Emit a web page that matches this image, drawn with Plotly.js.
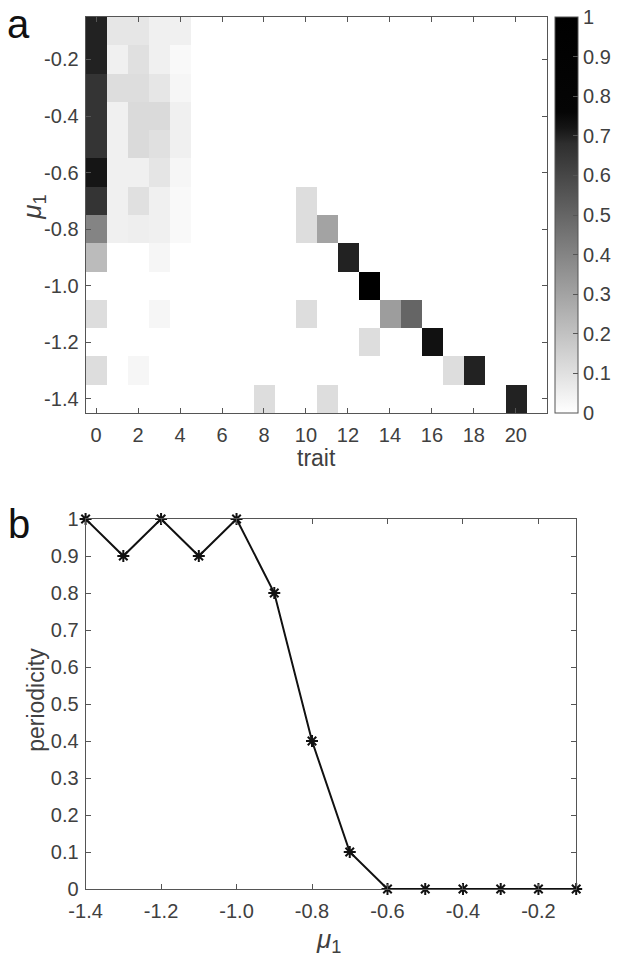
<!DOCTYPE html>
<html>
<head>
<meta charset="utf-8">
<script src="https://cdn.plot.ly/plotly-3.0.1.min.js"></script>
<style>html,body{margin:0;padding:0;background:#fff;}#chart{width:617px;height:956px;}</style>
</head>
<body>
<div id="chart"></div>
<script>
// ---- data: panel a (heatmap) ----
const traits = [0,1,2,3,4,5,6,7,8,9,10,11,12,13,14,15,16,17,18,19,20,21];
const mu1Rows = [-0.1,-0.2,-0.3,-0.4,-0.5,-0.6,-0.7,-0.8,-0.9,-1.0,-1.1,-1.2,-1.3,-1.4];
const row_m01 = [0.70,0.08,0.08,0.05,0.05,0,0,0,0,0,0,0,0,0,0,0,0,0,0,0,0,0];
const row_m02 = [0.70,0.05,0.10,0.05,0.02,0,0,0,0,0,0,0,0,0,0,0,0,0,0,0,0,0];
const row_m03 = [0.66,0.11,0.11,0.08,0.03,0,0,0,0,0,0,0,0,0,0,0,0,0,0,0,0,0];
const row_m04 = [0.66,0.05,0.12,0.12,0.05,0,0,0,0,0,0,0,0,0,0,0,0,0,0,0,0,0];
const row_m05 = [0.66,0.05,0.12,0.10,0.05,0,0,0,0,0,0,0,0,0,0,0,0,0,0,0,0,0];
const row_m06 = [0.72,0.05,0.05,0.085,0.03,0,0,0,0,0,0,0,0,0,0,0,0,0,0,0,0,0];
const row_m07 = [0.66,0.05,0.10,0.05,0.02,0,0,0,0,0,0.11,0,0,0,0,0,0,0,0,0,0,0];
const row_m08 = [0.40,0.05,0.055,0.05,0.02,0,0,0,0,0,0.11,0.30,0,0,0,0,0,0,0,0,0,0];
const row_m09 = [0.22,0,0,0.03,0,0,0,0,0,0,0,0,0.70,0,0,0,0,0,0,0,0,0];
const row_m10 = [0,0,0,0,0,0,0,0,0,0,0,0,0,1.0,0,0,0,0,0,0,0,0];
const row_m11 = [0.11,0,0,0.03,0,0,0,0,0,0,0.11,0,0,0,0.32,0.50,0,0,0,0,0,0];
const row_m12 = [0,0,0,0,0,0,0,0,0,0,0,0,0,0.11,0,0,0.73,0,0,0,0,0];
const row_m13 = [0.11,0,0.03,0,0,0,0,0,0,0,0,0,0,0,0,0,0,0.11,0.70,0,0,0];
const row_m14 = [0,0,0,0,0,0,0,0,0.11,0,0,0.11,0,0,0,0,0,0,0,0,0.70,0];
const xTicksA = [0,2,4,6,8,10,12,14,16,18,20];
const yTicksA = [-0.2,-0.4,-0.6,-0.8,-1.0,-1.2,-1.4];
const cbTicks = [0,0.1,0.2,0.3,0.4,0.5,0.6,0.7,0.8,0.9,1];

// ---- data: panel b (periodicity) ----
const mu1 = [-1.4,-1.3,-1.2,-1.1,-1.0,-0.9,-0.8,-0.7,-0.6,-0.5,-0.4,-0.3,-0.2,-0.1];
const periodicity = [1,0.9,1,0.9,1,0.8,0.4,0.1,0,0,0,0,0,0];
const xTicksB = [-1.4,-1.2,-1.0,-0.8,-0.6,-0.4,-0.2];
const yTicksB = [0,0.1,0.2,0.3,0.4,0.5,0.6,0.7,0.8,0.9,1];

const z = [row_m01,row_m02,row_m03,row_m04,row_m05,row_m06,row_m07,row_m08,row_m09,row_m10,row_m11,row_m12,row_m13,row_m14];

const W = 617, H = 956;
const px = v => v / W;
const py = v => 1 - v / H;
const fmt1 = v => v.toFixed(1);
const fmtG = v => String(v);

const FONT = 'Liberation Sans, Arial, Helvetica, sans-serif';
const TXT = '#404040';
const LINE = '#555555';
const TS = 20;
const LS = 23;

const axisCommon = {
  showline: true, linecolor: LINE, linewidth: 1, mirror: 'ticks',
  ticks: 'inside', ticklen: 5, tickcolor: LINE, tickwidth: 1,
  showgrid: false, zeroline: false,
  tickfont: {family: FONT, size: TS, color: TXT},
  automargin: false
};

const data = [
  {
    type: 'heatmap', x: traits, y: mu1Rows, z: z,
    xaxis: 'x', yaxis: 'y',
    zmin: 0, zmax: 1,
    colorscale: [[0,'rgb(255,255,255)'],[0.68,'rgb(46,46,46)'],[0.72,'rgb(21,21,21)'],[0.76,'rgb(5,5,5)'],[1,'rgb(0,0,0)']],
    showscale: true,
    colorbar: {
      x: px(558), xanchor: 'left', y: py(215), yanchor: 'middle',
      lenmode: 'pixels', len: 396, thicknessmode: 'pixels', thickness: 23,
      outlinewidth: 1, outlinecolor: LINE,
      ticks: 'inside', ticklen: 5, tickcolor: LINE,
      tickvals: cbTicks, ticktext: cbTicks.map(fmtG),
      tickfont: {family: FONT, size: TS, color: TXT},
      xpad: 0, ypad: 0
    },
    hoverinfo: 'skip'
  },
  {
    type: 'scatter', mode: 'lines+markers', x: mu1, y: periodicity,
    xaxis: 'x2', yaxis: 'y2',
    line: {color: '#111', width: 2},
    marker: {symbol: 'asterisk-open', size: 10, color: '#111', line: {color: '#111', width: 2}},
    showlegend: false, cliponaxis: false
  }
];

const layout = {
  width: W, height: H,
  margin: {l: 0, r: 0, t: 0, b: 0},
  paper_bgcolor: '#fff', plot_bgcolor: '#fff',
  showlegend: false,
  font: {family: FONT, color: TXT},
  xaxis: Object.assign({}, axisCommon, {
    domain: [px(86), px(550)], range: [-0.5, 21.5], anchor: 'y',
    tickvals: xTicksA, ticktext: xTicksA.map(fmtG), ticklabelstandoff: 4
  }),
  yaxis: Object.assign({}, axisCommon, {
    domain: [py(413), py(17)], range: [-1.45, -0.05], anchor: 'x',
    tickvals: yTicksA, ticktext: yTicksA.map(fmt1), ticklabelstandoff: 2
  }),
  xaxis2: Object.assign({}, axisCommon, {
    domain: [px(86), px(579)], range: [-1.4, -0.1], anchor: 'y2',
    tickvals: xTicksB, ticktext: xTicksB.map(fmt1), ticklabelstandoff: 4
  }),
  yaxis2: Object.assign({}, axisCommon, {
    domain: [py(889), py(519)], range: [0, 1], anchor: 'x2',
    tickvals: yTicksB, ticktext: yTicksB.map(fmtG), ticklabelstandoff: 2
  }),
  annotations: [
    {text: 'a', xref: 'paper', yref: 'paper', x: px(19), y: py(24), xanchor: 'center', yanchor: 'middle', showarrow: false, font: {family: FONT, size: 40, color: '#111'}},
    {text: 'b', xref: 'paper', yref: 'paper', x: px(19), y: py(524), xanchor: 'center', yanchor: 'middle', showarrow: false, font: {family: FONT, size: 40, color: '#111'}},
    {text: 'trait', xref: 'paper', yref: 'paper', x: px(318), y: py(458), xanchor: 'center', yanchor: 'middle', showarrow: false, font: {family: FONT, size: LS, color: TXT}},
    {text: '<i>μ</i><sub>1</sub>', xref: 'paper', yref: 'paper', x: px(33), y: py(207), xanchor: 'center', yanchor: 'middle', textangle: -90, showarrow: false, font: {family: FONT, size: 26, color: TXT}},
    {text: 'periodicity', xref: 'paper', yref: 'paper', x: px(36), y: py(700), xanchor: 'center', yanchor: 'middle', textangle: -90, showarrow: false, font: {family: FONT, size: LS, color: TXT}},
    {text: '<i>μ</i><sub>1</sub>', xref: 'paper', yref: 'paper', x: px(330), y: py(940), xanchor: 'center', yanchor: 'middle', showarrow: false, font: {family: FONT, size: 26, color: TXT}}
  ]
};

Plotly.newPlot('chart', data, layout, {displayModeBar: false, staticPlot: true});
</script>
</body>
</html>
